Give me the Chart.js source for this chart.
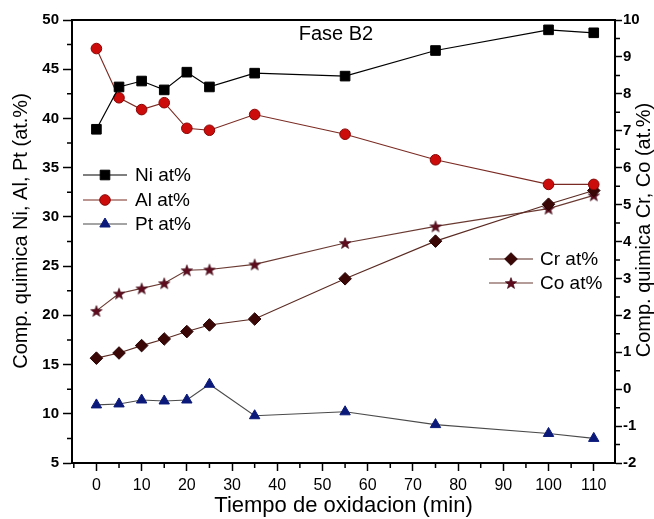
<!DOCTYPE html>
<html><head><meta charset="utf-8">
<script src="https://cdn.jsdelivr.net/npm/chart.js@4/dist/chart.umd.min.js"></script>
<style>html,body{margin:0;padding:0;background:#fff}#wrap{width:654px;height:519px;position:relative}</style>
</head><body><div id="wrap"><canvas id="c" width="654" height="519"></canvas></div>
<script>
// ---- data ----
const tiempo = [0, 5, 10, 15, 20, 25, 35, 55, 75, 100, 110];
const niAt = [38.9, 43.2, 43.8, 42.9, 44.7, 43.2, 44.6, 44.3, 46.9, 49.0, 48.7];
const alAt = [47.1, 42.1, 40.9, 41.6, 39.0, 38.8, 40.4, 38.4, 35.8, 33.3, 33.3];
const ptAt = [10.9, 11.0, 11.4, 11.3, 11.4, 13.0, 9.8, 10.2, 8.9, 8.0, 7.5];
const crAt = [0.84, 0.98, 1.18, 1.36, 1.56, 1.74, 1.90, 2.99, 4.01, 5.01, 5.38];
const coAt = [2.12, 2.59, 2.73, 2.87, 3.22, 3.24, 3.38, 3.96, 4.41, 4.89, 5.25];
const xRange = [-5.4, 114.7];
const leftRange = [5, 50];
const rightRange = [-2, 10];
const xTitle = 'Tiempo de oxidacion (min)';
const leftTitle = 'Comp. quimica Ni, Al, Pt (at.%)';
const rightTitle = 'Comp. quimica Cr, Co (at.%)';
const panelLabel = 'Fase B2';

const FONT = '"Liberation Sans", Arial, Helvetica, sans-serif';
Chart.defaults.font.family = FONT;
Chart.defaults.color = '#000';

function pts(ys){ return tiempo.map((x,i)=>({x:x, y:ys[i]})); }

// filled five-point star marker
function makeStar(color, R){
  const c = document.createElement('canvas');
  const s = Math.ceil(R*2+2); c.width = s; c.height = s;
  const g = c.getContext('2d');
  const cx = s/2, cy = s/2 + 0.6, r = R*0.42;
  g.beginPath();
  for(let i=0;i<10;i++){
    const rad = (i%2===0)?R:r;
    const ang = -Math.PI/2 + i*Math.PI/5;
    const px = cx + rad*Math.cos(ang), py = cy + rad*Math.sin(ang);
    if(i===0) g.moveTo(px,py); else g.lineTo(px,py);
  }
  g.closePath(); g.fillStyle = color; g.fill();
  g.strokeStyle = '#3a0510'; g.lineWidth = 0.6; g.stroke();
  return c;
}
const starImg = makeStar('#5e0c1e', 6);

const datasets = [
  {label:'Ni at%', data:pts(niAt), yAxisID:'y', borderColor:'#000', borderWidth:1.2,
   pointStyle:'rect', pointRadius:6.8, pointBackgroundColor:'#000', pointBorderColor:'#000', pointBorderWidth:1},
  {label:'Al at%', data:pts(alAt), yAxisID:'y', borderColor:'#7a2a22', borderWidth:1.1,
   pointStyle:'circle', pointRadius:5.3, pointBackgroundColor:'#cc0b0b', pointBorderColor:'#8a0505', pointBorderWidth:1},
  {label:'Pt at%', data:pts(ptAt), yAxisID:'y', borderColor:'#4a4a4a', borderWidth:1.1,
   pointStyle:'triangle', pointRadius:6, pointBackgroundColor:'#0b1a7a', pointBorderColor:'#0b1a7a', pointBorderWidth:1},
  {label:'Cr at%', data:pts(crAt), yAxisID:'y1', borderColor:'#5a2a22', borderWidth:1.1,
   pointStyle:'rectRot', pointRadius:6.3, pointBackgroundColor:'#3a0606', pointBorderColor:'#2a0303', pointBorderWidth:1},
  {label:'Co at%', data:pts(coAt), yAxisID:'y1', borderColor:'#6a3a32', borderWidth:1.1,
   pointStyle:starImg, pointRadius:6, pointBackgroundColor:'#5e0c1e', pointBorderColor:'#5e0c1e', pointBorderWidth:0}
];

function legendItem(ctx, ds, x0, x1, y, tx){
  ctx.save();
  ctx.strokeStyle = ds.borderColor; ctx.lineWidth = 1.2;
  ctx.beginPath(); ctx.moveTo(x0, y); ctx.lineTo(x1, y); ctx.stroke();
  ctx.fillStyle = ds.pointBackgroundColor; ctx.strokeStyle = ds.pointBorderColor; ctx.lineWidth = 1;
  Chart.helpers.drawPoint(ctx, {pointStyle: ds.pointStyle, radius: ds.pointRadius, rotation: 0, borderWidth: ds.pointBorderWidth}, (x0+x1)/2, y);
  ctx.fillStyle = '#000'; ctx.font = '19px ' + FONT; ctx.textAlign = 'left'; ctx.textBaseline = 'middle';
  ctx.fillText(ds.label, tx, y + 1);
  ctx.restore();
}

const decor = {
  id: 'decor',
  afterDraw(chart){
    const ctx = chart.ctx, a = chart.chartArea;
    const xs = chart.scales.x, yl = chart.scales.y, yr = chart.scales.y1;
    ctx.save();
    ctx.strokeStyle = '#000'; ctx.lineWidth = 1.5;
    ctx.beginPath();
    for(let v = -5; v <= xs.max; v += 10){
      const p = xs.getPixelForValue(v); ctx.moveTo(p, a.bottom); ctx.lineTo(p, a.bottom + 5);
    }
    for(let v = leftRange[0] + 2.5; v < leftRange[1]; v += 5){
      const p = yl.getPixelForValue(v); ctx.moveTo(a.left - 5, p); ctx.lineTo(a.left, p);
    }
    for(let v = rightRange[0] + 0.5; v < rightRange[1]; v += 1){
      const p = yr.getPixelForValue(v); ctx.moveTo(a.right, p); ctx.lineTo(a.right + 5, p);
    }
    ctx.stroke();
    ctx.lineWidth = 2;
    ctx.beginPath(); ctx.moveTo(a.left - 1, a.top); ctx.lineTo(a.right + 1, a.top); ctx.stroke();

    ctx.fillStyle = '#000'; ctx.textAlign = 'center'; ctx.textBaseline = 'middle';
    ctx.font = '20px ' + FONT;
    ctx.save(); ctx.translate(21, 231); ctx.rotate(-Math.PI/2); ctx.fillText(leftTitle, 0, 0); ctx.restore();
    ctx.save(); ctx.translate(644, 230); ctx.rotate(-Math.PI/2); ctx.fillText(rightTitle, 0, 0); ctx.restore();
    ctx.fillText(panelLabel, 336, 34);

    const ds = chart.data.datasets;
    legendItem(ctx, ds[0], 83, 127, 175, 135);
    legendItem(ctx, ds[1], 83, 127, 200, 135);
    legendItem(ctx, ds[2], 83, 127, 224, 135);
    legendItem(ctx, ds[3], 489, 533, 259, 540);
    legendItem(ctx, ds[4], 489, 533, 283, 540);
    ctx.restore();
  }
};

new Chart(document.getElementById('c'), {
  type: 'line',
  data: { datasets: datasets },
  options: {
    responsive: false, animation: false, devicePixelRatio: 1,
    layout: { padding: { top: 20, left: 0, right: 0, bottom: 0 } },
    plugins: { legend: { display: false }, tooltip: { enabled: false } },
    elements: { line: { tension: 0 } },
    scales: {
      x: {
        type: 'linear', position: 'bottom', min: xRange[0], max: xRange[1],
        afterFit(s){ s.height = 56; },
        ticks: { stepSize: 10, includeBounds: false, padding: 5, font: { size: 16 }, color: '#000',
          callback: v => (v % 10 === 0 ? String(v) : '') },
        grid: { drawOnChartArea: false, drawTicks: true, tickLength: 8, tickColor: '#000', tickWidth: 1.5 },
        border: { display: true, color: '#000', width: 2 },
        title: { display: true, text: xTitle, font: { size: 22 }, color: '#000', padding: { top: 0, bottom: 0 } }
      },
      y: {
        type: 'linear', position: 'left', min: leftRange[0], max: leftRange[1],
        afterFit(s){ s.width = 72; },
        ticks: { stepSize: 5, padding: 4, font: { size: 15, weight: 'bold' }, color: '#000' },
        grid: { drawOnChartArea: false, drawTicks: true, tickLength: 9, tickColor: '#000', tickWidth: 1.5 },
        border: { display: true, color: '#000', width: 2 }
      },
      y1: {
        type: 'linear', position: 'right', min: rightRange[0], max: rightRange[1],
        afterFit(s){ s.width = 39; },
        ticks: { stepSize: 1, padding: 1, font: { size: 15, weight: 'bold' }, color: '#000' },
        grid: { drawOnChartArea: false, drawTicks: true, tickLength: 7, tickColor: '#000', tickWidth: 1.5 },
        border: { display: true, color: '#000', width: 2 }
      }
    }
  },
  plugins: [decor]
});
</script>
</body></html>
